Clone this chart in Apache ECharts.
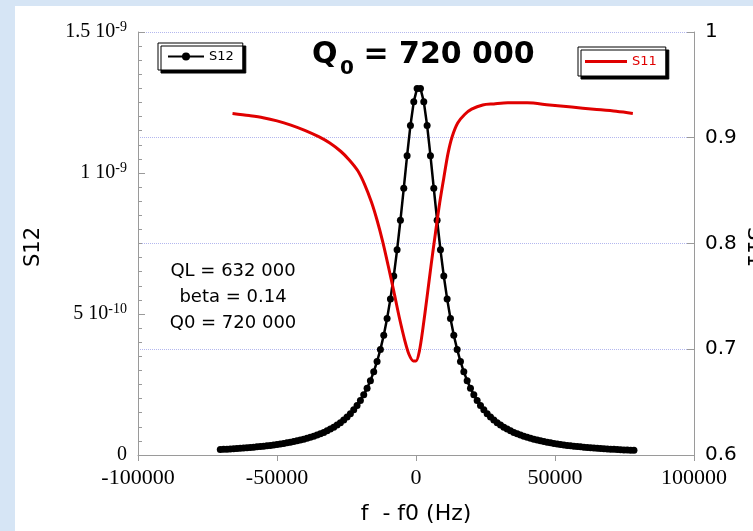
<!DOCTYPE html>
<html>
<head>
<meta charset="utf-8">
<script src="https://cdn.jsdelivr.net/npm/echarts@6/dist/echarts.min.js"></script>
<style>
  html, body { margin: 0; padding: 0; width: 753px; height: 531px; background: #d6e5f5; overflow: hidden; }
  #chart { position: absolute; left: 15px; top: 6px; width: 738px; height: 525px; background: #fff; }
</style>
</head>
<body>
<div id="chart"></div>
<script>
// Transmission (S12, in units of 1e-9) sampled every 1.2 kHz around resonance
const FREQ_S12 = [
  -70400, -69200, -68000, -66800, -65600, -64400, -63200, -62000, -60800, -59600,
  -58400, -57200, -56000, -54800, -53600, -52400, -51200, -50000, -48800, -47600,
  -46400, -45200, -44000, -42800, -41600, -40400, -39200, -38000, -36800, -35600,
  -34400, -33200, -32000, -30800, -29600, -28400, -27200, -26000, -24800, -23600,
  -22400, -21200, -20000, -18800, -17600, -16400, -15200, -14000, -12800, -11600,
  -10400, -9200, -8000, -6800, -5600, -4400, -3200, -2000, -800, 400,
  1600, 2800, 4000, 5200, 6400, 7600, 8800, 10000, 11200, 12400,
  13600, 14800, 16000, 17200, 18400, 19600, 20800, 22000, 23200, 24400,
  25600, 26800, 28000, 29200, 30400, 31600, 32800, 34000, 35200, 36400,
  37600, 38800, 40000, 41200, 42400, 43600, 44800, 46000, 47200, 48400,
  49600, 50800, 52000, 53200, 54400, 55600, 56800, 58000, 59200, 60400,
  61600, 62800, 64000, 65200, 66400, 67600, 68800, 70000, 71200, 72400,
  73600, 74800, 76000, 77200, 78400
];
const S12_NANO = [
  0.0193, 0.0200, 0.0207, 0.0214, 0.0222, 0.0230, 0.0238, 0.0247, 0.0257, 0.0267,
  0.0277, 0.0289, 0.0301, 0.0313, 0.0327, 0.0341, 0.0357, 0.0373, 0.0391, 0.0410,
  0.0430, 0.0452, 0.0476, 0.0501, 0.0529, 0.0558, 0.0591, 0.0626, 0.0664, 0.0706,
  0.0752, 0.0802, 0.0858, 0.0919, 0.0987, 0.1063, 0.1147, 0.1241, 0.1347, 0.1467,
  0.1602, 0.1756, 0.1932, 0.2134, 0.2366, 0.2636, 0.2949, 0.3316, 0.3745, 0.4249,
  0.4841, 0.5536, 0.6346, 0.7276, 0.8324, 0.9457, 1.0614, 1.1686, 1.2530, 1.2999,
  1.2999, 1.2530, 1.1686, 1.0614, 0.9457, 0.8324, 0.7276, 0.6346, 0.5536, 0.4841,
  0.4249, 0.3745, 0.3316, 0.2949, 0.2636, 0.2366, 0.2134, 0.1932, 0.1756, 0.1602,
  0.1467, 0.1347, 0.1241, 0.1147, 0.1063, 0.0987, 0.0919, 0.0858, 0.0802, 0.0752,
  0.0706, 0.0664, 0.0626, 0.0591, 0.0558, 0.0529, 0.0501, 0.0476, 0.0452, 0.0430,
  0.0410, 0.0391, 0.0373, 0.0357, 0.0341, 0.0327, 0.0313, 0.0301, 0.0289, 0.0277,
  0.0267, 0.0257, 0.0247, 0.0238, 0.0230, 0.0222, 0.0214, 0.0207, 0.0200, 0.0193,
  0.0187, 0.0181, 0.0175, 0.0170, 0.0165
];

// Reflection magnitude S11
const FREQ_S11 = [
  -66000, -60000, -55000, -50000, -45000, -40000, -35000, -31000, -27000, -24000,
  -21000, -18500, -16000, -14000, -12000, -10000, -8000, -6000, -4000, -2500,
  -1000, 0, 1200, 2500, 4000, 5500, 7000, 8500, 10000, 11500,
  13000, 15000, 17500, 20000, 24000, 28000, 33000, 40000, 48000, 56000,
  64000, 72000, 78000
];
const S11_VALUES = [
  0.923, 0.921, 0.919, 0.916, 0.912, 0.907, 0.901, 0.895, 0.887, 0.879,
  0.869, 0.856, 0.839, 0.822, 0.802, 0.779, 0.755, 0.730, 0.708, 0.695,
  0.689, 0.689, 0.698, 0.720, 0.750, 0.781, 0.810, 0.838, 0.862, 0.885,
  0.901, 0.914, 0.922, 0.927, 0.931, 0.932, 0.933, 0.933, 0.931, 0.929,
  0.927, 0.925, 0.923
];

// Axis tick labels
const X_TICKS = [-100000, -50000, 0, 50000, 100000];
const X_TICK_LABELS = ['-100000', '-50000', '0', '50000', '100000'];
const S12_TICKS = [0, 0.5, 1, 1.5];
const S12_TICK_MANTISSA = ['0', '5 10', '1 10', '1.5 10'];
const S12_TICK_EXPONENT = ['', '-10', '-9', '-9'];
const S11_TICKS = [0.6, 0.7, 0.8, 0.9, 1];
const S11_TICK_LABELS = ['0.6', '0.7', '0.8', '0.9', '1'];

const SANS = 'DejaVu Sans';
const SERIF = 'Liberation Serif';

function nearestIndex(list, v) {
  let best = 0;
  for (let i = 1; i < list.length; i++) {
    if (Math.abs(list[i] - v) < Math.abs(list[best] - v)) best = i;
  }
  return best;
}

const s12Data = FREQ_S12.map((f, i) => [f, S12_NANO[i]]);
const s11Data = FREQ_S11.map((f, i) => [f, S11_VALUES[i]]);

const chart = echarts.init(document.getElementById('chart'), null, { renderer: 'canvas' });

const legendBase = {
  orient: 'horizontal',
  selectedMode: false,
  backgroundColor: '#fff',
  borderColor: '#000',
  borderWidth: 1,
  borderRadius: 0,
  shadowColor: '#000',
  shadowBlur: 0,
  shadowOffsetX: 3,
  shadowOffsetY: 3
};

// Title pieces: Q, subscript 0, then the rest
const TITLE_FONT = 'bold 30px "DejaVu Sans"';
const SUB_FONT = 'bold 20px "DejaVu Sans"';

chart.setOption({
  animation: false,
  backgroundColor: '#fff',
  legend: [
    Object.assign({}, legendBase, {
      data: ['S12'],
      left: 143, top: 37,
      padding: [7, 9, 7, 9],
      itemWidth: 36,
      itemHeight: 10,
      textStyle: { fontFamily: SANS, fontSize: 13, color: '#000' }
    }),
    Object.assign({}, legendBase, {
      data: [{ name: 'S11', icon: 'rect' }],
      left: 563, top: 41,
      padding: [8, 9, 8, 7],
      itemWidth: 42,
      itemHeight: 3,
      textStyle: { fontFamily: SANS, fontSize: 13, color: '#e00000' }
    })
  ],
  grid: { left: 123, right: 59, top: 26, bottom: 76, containLabel: false },
  xAxis: {
    type: 'value',
    min: -100000, max: 100000, interval: 50000,
    axisLine: { onZero: false, lineStyle: { color: '#9a9a9a', width: 1 } },
    axisTick: { show: true, inside: false, length: 6, lineStyle: { color: '#9a9a9a' } },
    axisLabel: {
      margin: 12, fontFamily: SERIF, fontSize: 22, color: '#000',
      formatter: v => X_TICK_LABELS[nearestIndex(X_TICKS, v)]
    },
    splitLine: { show: false },
    name: 'f  - f0 (Hz)',
    nameLocation: 'middle',
    nameGap: 48,
    nameTextStyle: { fontFamily: SANS, fontSize: 22, color: '#000' }
  },
  yAxis: [
    {
      type: 'value', position: 'left',
      min: 0, max: 1.5, interval: 0.5,
      axisLine: { show: true, onZero: false, lineStyle: { color: '#9a9a9a', width: 1 } },
      axisTick: { show: true, inside: true, length: 7, lineStyle: { color: '#9a9a9a' } },
      minorTick: { show: true, splitNumber: 10, length: 4, lineStyle: { color: '#9a9a9a' } },
      axisLabel: {
        margin: 11,
        formatter: v => {
          const i = nearestIndex(S12_TICKS, v);
          return S12_TICK_EXPONENT[i]
            ? '{m|' + S12_TICK_MANTISSA[i] + '}{e|' + S12_TICK_EXPONENT[i] + '}'
            : '{m|' + S12_TICK_MANTISSA[i] + '}';
        },
        rich: {
          m: { fontFamily: SERIF, fontSize: 20, lineHeight: 24, color: '#000' },
          e: { fontFamily: SERIF, fontSize: 14, lineHeight: 10, verticalAlign: 'top', color: '#000' }
        }
      },
      splitLine: { show: false }
    },
    {
      type: 'value', position: 'right',
      min: 0.6, max: 1, interval: 0.1,
      axisLine: { show: true, onZero: false, lineStyle: { color: '#9a9a9a', width: 1 } },
      axisTick: { show: true, inside: true, length: 7, lineStyle: { color: '#9a9a9a' } },
      axisLabel: {
        margin: 11, fontFamily: SANS, fontSize: 20, color: '#000',
        formatter: v => S11_TICK_LABELS[nearestIndex(S11_TICKS, v)]
      },
      splitLine: { show: true, lineStyle: { color: '#b3b7ee', type: 'dotted', width: 1 } }
    }
  ],
  series: [
    {
      name: 'S12',
      type: 'line',
      xAxisIndex: 0, yAxisIndex: 0,
      data: s12Data,
      symbol: 'circle',
      symbolSize: 7,
      showSymbol: true,
      showAllSymbol: true,
      color: '#000',
      itemStyle: { color: '#000' },
      lineStyle: { color: '#000', width: 2.5 },
      z: 2
    },
    {
      name: 'S11',
      type: 'line',
      xAxisIndex: 0, yAxisIndex: 1,
      data: s11Data,
      symbol: 'none',
      smooth: 0.3,
      color: '#e00000',
      lineStyle: { color: '#e00000', width: 3 },
      z: 3
    }
  ],
  graphic: [
    {
      type: 'text', x: 297, y: 49,
      style: { text: 'Q', fill: '#000', font: TITLE_FONT, align: 'left', verticalAlign: 'middle' }
    },
    {
      type: 'text', x: 325, y: 62.5,
      style: { text: '0', fill: '#000', font: SUB_FONT, align: 'left', verticalAlign: 'middle' }
    },
    {
      type: 'text', x: 338, y: 49,
      style: { text: ' = 720 000', fill: '#000', font: TITLE_FONT, align: 'left', verticalAlign: 'middle' }
    },
    {
      type: 'text', x: 19, y: 241, rotation: Math.PI / 2,
      style: { text: 'S12', fill: '#000', font: '21px "DejaVu Sans"', align: 'center', verticalAlign: 'middle' }
    },
    {
      type: 'text', x: 738, y: 241, rotation: -Math.PI / 2,
      style: { text: 'S11', fill: '#000', font: '21px "DejaVu Sans"', align: 'center', verticalAlign: 'middle' }
    },
    {
      type: 'text', x: 218, y: 291,
      style: {
        text: 'QL = 632 000\nbeta = 0.14\nQ0 = 720 000',
        fill: '#000', font: '18px "DejaVu Sans"', align: 'center', verticalAlign: 'middle', lineHeight: 26
      }
    }
  ]
});
</script>
</body>
</html>
